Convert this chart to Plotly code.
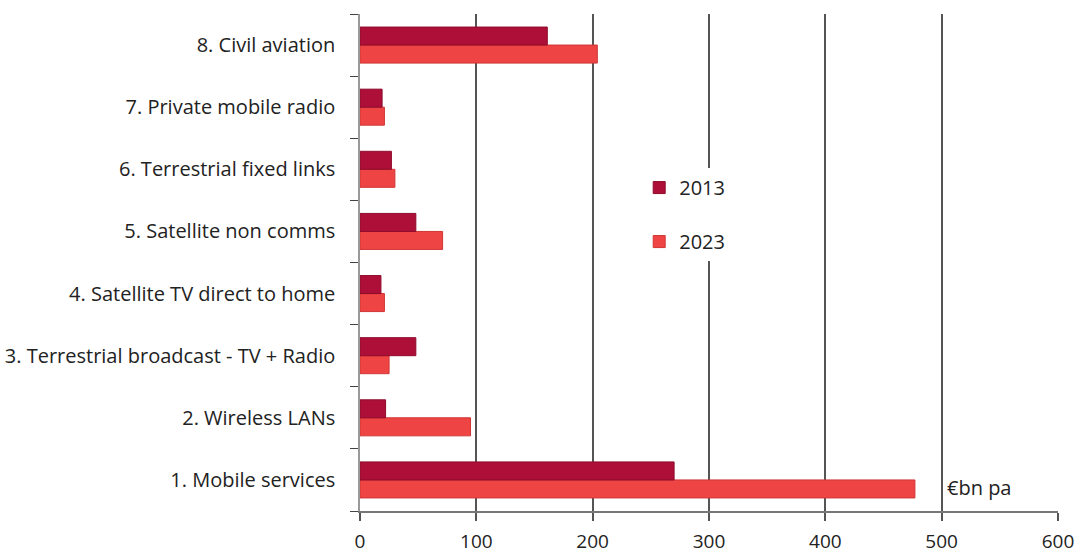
import plotly.graph_objects as go

categories = [
    "1. Mobile services",
    "2. Wireless LANs",
    "3. Terrestrial broadcast - TV + Radio",
    "4. Satellite TV direct to home",
    "5. Satellite non comms",
    "6. Terrestrial fixed links",
    "7. Private mobile radio",
    "8. Civil aviation",
]
values_2013 = [270, 22, 48, 18, 48, 27, 19, 161]
values_2023 = [477, 95, 25, 21, 71, 30, 21, 204]
x_ticks = [0, 100, 200, 300, 400, 500, 600]

FONT = "Open Sans"

fig = go.Figure()
# 2023 is added first so it sits below 2013 within each horizontal group;
# legendrank keeps 2013 on top in the legend
fig.add_trace(go.Bar(
    y=categories, x=values_2023, name="2023", orientation="h",
    marker=dict(color="#EE4444", line=dict(color="#D03535", width=1)),
    legendgroup="b", legendrank=2,
))
fig.add_trace(go.Bar(
    y=categories, x=values_2013, name="2013", orientation="h",
    marker=dict(color="#AE0F38", line=dict(color="#8E0C2C", width=1)),
    legendgroup="a", legendrank=1,
))

fig.add_annotation(
    x=values_2023[0], y=categories[0], yshift=-8, xref="x", yref="y",
    text="€bn pa", showarrow=False, xanchor="left", xshift=30,
    font=dict(family=FONT, size=20, color="#222"),
)

fig.update_layout(
    width=1079, height=559,
    margin=dict(l=360, r=21, t=14, b=48),
    paper_bgcolor="white", plot_bgcolor="white",
    barmode="group", bargap=0.42, bargroupgap=0,
    font=dict(family=FONT, size=20, color="#222"),
    showlegend=True,
    legend=dict(
        x=0.40, y=0.69, xanchor="left", yanchor="top",
        bgcolor="white", font=dict(size=20, color="#222"),
        tracegroupgap=25, itemwidth=30, traceorder="grouped",
    ),
    xaxis=dict(
        range=[0, 600], tickvals=x_ticks, ticktext=[str(v) for v in x_ticks],
        showgrid=True, gridcolor="#555", gridwidth=1.5,
        showline=True, linecolor="#777", linewidth=1.5,
        ticks="outside", ticklen=8, tickcolor="#555", tickwidth=1.5,
        ticklabelstandoff=4, zeroline=False, automargin=False,
        tickfont=dict(size=19, color="#222"),
    ),
    yaxis=dict(
        type="category", categoryorder="array", categoryarray=categories,
        tickson="boundaries", ticks="outside", ticklen=8, tickcolor="#444",
        showline=True, linecolor="#999", linewidth=1.5,
        showgrid=False, ticklabelstandoff=19, automargin=False,
        tickfont=dict(size=20, color="#222"),
    ),
)

fig.write_html("out.html")
